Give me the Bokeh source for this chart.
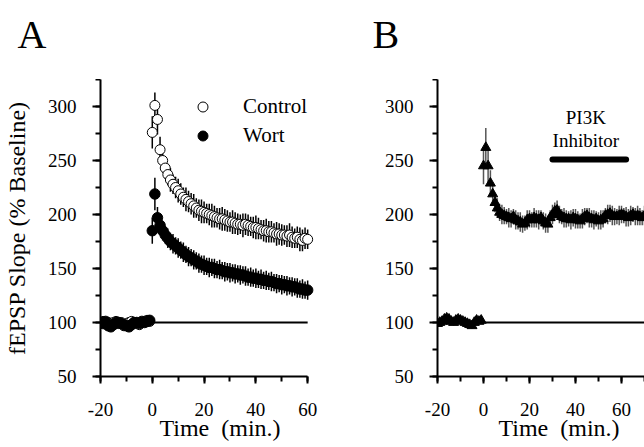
from bokeh.plotting import figure
from bokeh.models import Range1d, SingleIntervalTicker, Legend, LegendItem, Label
from bokeh.layouts import row, column
from bokeh.embed import file_html
from bokeh.resources import INLINE

FONT = "Liberation Serif"

# ---------------- data ----------------
# Panel A: time (min), mean fEPSP slope (% baseline) and SEM
base_t = list(range(-20, 0))
post_t_a = list(range(0, 61))

ctrl_base = [100, 101, 99, 100, 98, 100, 101, 99, 100, 97,
             99, 100, 101, 100, 99, 98, 100, 101, 102, 101]
ctrl_base_sem = [3, 3, 2, 3, 3, 2, 3, 3, 2, 3, 3, 2, 3, 3, 2, 3, 3, 2, 3, 3]
ctrl_post = [276, 301, 288, 260, 250, 243, 237, 232, 228, 225,
             222, 219, 216, 214, 212, 210, 208, 206, 204, 203,
             202, 201, 200, 199, 198, 197, 196, 196, 195, 194,
             193, 193, 192, 191, 191, 190, 191, 190, 189, 188,
             188, 187, 186, 185, 185, 184, 184, 183, 182, 182,
             181, 181, 180, 181, 179, 178, 179, 177, 176, 178,
             177]
ctrl_post_sem = [15, 12, 14, 12, 11, 10, 10, 11, 9, 10,
                 11, 10, 9, 11, 10, 10, 11, 9, 10, 11,
                 10, 9, 10, 11, 10, 9, 10, 11, 10, 10,
                 9, 11, 10, 10, 9, 11, 10, 10, 9, 10,
                 11, 10, 9, 10, 11, 10, 10, 9, 11, 10,
                 10, 9, 10, 11, 10, 9, 10, 11, 10, 10,
                 9]

wort_base = [100, 99, 101, 97, 96, 98, 100, 100, 99, 98,
             97, 96, 98, 100, 100, 99, 101, 100, 101, 102]
wort_base_sem = [2, 3, 2, 3, 2, 3, 2, 3, 2, 3, 2, 3, 2, 3, 2, 3, 2, 3, 2, 3]
wort_post = [185, 219, 197, 190, 185, 181, 178, 175, 173, 171,
             169, 167, 165, 163, 161, 160, 158, 157, 155, 154,
             153, 152, 151, 151, 150, 149, 149, 148, 147, 147,
             146, 146, 145, 145, 144, 144, 143, 142, 142, 141,
             141, 140, 140, 139, 139, 138, 138, 137, 136, 136,
             135, 135, 134, 134, 133, 133, 132, 131, 131, 130,
             130]
wort_post_sem = [12, 15, 10, 9, 9, 8, 9, 8, 9, 8,
                 9, 8, 9, 8, 9, 8, 9, 8, 9, 8,
                 9, 8, 9, 8, 9, 8, 9, 8, 9, 8,
                 9, 8, 9, 8, 9, 8, 9, 8, 9, 8,
                 9, 8, 9, 8, 9, 8, 9, 8, 9, 8,
                 9, 8, 9, 8, 9, 8, 9, 8, 9, 8,
                 9]

# Panel B: PI3K inhibitor applied after LTP
post_t_b = list(range(0, 71))
pi3k_base = [99, 100, 101, 103, 104, 103, 101, 100, 102, 103,
             102, 101, 100, 99, 98, 97, 100, 102, 101, 102]
pi3k_base_sem = [3, 2, 3, 3, 2, 3, 2, 3, 3, 2, 3, 2, 3, 3, 2, 3, 2, 3, 3, 2]
pi3k_post = [245, 262, 245, 229, 219, 211, 206, 202, 200, 199,
             198, 197, 196, 198, 195, 194, 193, 191, 192, 195,
             196, 195, 197, 196, 195, 197, 194, 192, 191, 197,
             200, 203, 204, 200, 198, 197, 196, 196, 195, 197,
             196, 195, 194, 196, 198, 199, 197, 196, 195, 196,
             194, 195, 196, 199, 200, 201, 199, 198, 198, 199,
             200, 199, 198, 197, 199, 200, 198, 199, 198, 197,
             199]
pi3k_post_sem = [17, 18, 16, 12, 10, 9, 9, 8, 9, 8,
                 7, 9, 8, 7, 9, 8, 9, 8, 7, 9,
                 8, 7, 9, 8, 9, 7, 8, 9, 8, 7,
                 9, 8, 9, 8, 7, 9, 8, 7, 9, 8,
                 9, 8, 7, 9, 8, 7, 9, 8, 9, 7,
                 8, 9, 8, 7, 9, 8, 9, 8, 7, 9,
                 8, 7, 9, 8, 9, 7, 8, 9, 8, 7,
                 9]
inhibitor_t = [30, 62]
panel_letters = ["A", "B"]

baseline_level = 100
y_ticks_major = 50
x_ticks_major = 20
NB = "\u00a0"


def style(p, xlabel, ylabel=None):
    p.xgrid.visible = False
    p.ygrid.visible = False
    p.outline_line_color = None
    p.background_fill_color = "white"
    p.border_fill_color = "white"
    p.xaxis.ticker = SingleIntervalTicker(interval=x_ticks_major, num_minor_ticks=2)
    p.yaxis.ticker = SingleIntervalTicker(interval=y_ticks_major, num_minor_ticks=2)
    p.xaxis.major_label_overrides = {-20: "-20"}
    for ax in (p.xaxis[0], p.yaxis[0]):
        ax.axis_line_width = 2
        ax.axis_line_color = "black"
        ax.major_tick_line_width = 2
        ax.minor_tick_line_width = 2
        ax.major_tick_line_color = "black"
        ax.minor_tick_line_color = "black"
        ax.major_tick_in = 0
        ax.minor_tick_in = 0
        ax.major_label_text_font = FONT
        ax.major_label_text_font_size = "19px"
        ax.major_label_text_color = "black"
        ax.axis_label_text_font = FONT
        ax.axis_label_text_font_size = "24px"
        ax.axis_label_text_font_style = "normal"
        ax.axis_label_text_color = "black"
    p.xaxis.major_tick_out = 7
    p.xaxis.minor_tick_out = 5
    p.yaxis.major_tick_out = 8
    p.yaxis.minor_tick_out = 5
    p.xaxis.major_label_standoff = 19
    p.yaxis.major_label_standoff = 16
    p.xaxis.axis_label = xlabel
    p.xaxis.axis_label_standoff = -4
    if ylabel:
        p.yaxis.axis_label = ylabel
        p.yaxis.axis_label_standoff = 15


def errbars(p, t, m, s, color, width):
    lo = [a - b for a, b in zip(m, s)]
    hi = [a + b for a, b in zip(m, s)]
    p.segment(x0=t, y0=lo, x1=t, y1=hi, line_color=color, line_width=width)


# ---------------- header strip with panel letters ----------------
head = figure(width=644, height=79, x_range=Range1d(0, 644), y_range=Range1d(0, 79),
              output_backend="svg", toolbar_location=None,
              x_axis_location=None, y_axis_location=None, min_border=0)
head.xgrid.visible = False
head.ygrid.visible = False
head.outline_line_color = None
for letter, sx in zip(panel_letters, [17, 372]):
    head.add_layout(Label(x=sx, y=45, x_units="screen", y_units="screen", text=letter,
                          text_font=FONT, text_font_size="40px", text_color="black",
                          text_baseline="alphabetic"))

# ---------------- Panel A ----------------
pa = figure(width=340, height=368, x_range=Range1d(-20, 72.3), y_range=Range1d(50, 325),
            output_backend="svg", toolbar_location=None,
            min_border_left=99, min_border_right=1, min_border_top=0, min_border_bottom=71)
style(pa, "Time " + NB + "(min.)", "fEPSP Slope (% Baseline)")
pa.xaxis.bounds = (-20, 60)

ta = base_t + post_t_a
pa.segment(x0=[min(ta)], y0=[baseline_level], x1=[max(ta)], y1=[baseline_level],
           line_color="black", line_width=2)
c_all = ctrl_base + ctrl_post
w_all = wort_base + wort_post
errbars(pa, ta, c_all, ctrl_base_sem + ctrl_post_sem, "black", 1.5)
r_ctrl = pa.scatter(ta, c_all, size=10, marker="circle", fill_color="white",
                    line_color="black", line_width=1)
errbars(pa, ta, w_all, wort_base_sem + wort_post_sem, "black", 1.5)
r_wort = pa.scatter(ta, w_all, size=10.5, marker="circle", fill_color="black",
                    line_color="black", line_width=1)

legend = Legend(items=[LegendItem(label="Control", renderers=[r_ctrl]),
                       LegendItem(label="Wort", renderers=[r_wort])],
                location=(90, 228), glyph_width=25, glyph_height=25, label_height=25,
                spacing=4, padding=0, margin=0, label_standoff=28,
                label_text_font=FONT, label_text_font_size="21px",
                label_text_color="black",
                border_line_color=None, background_fill_alpha=0)
pa.add_layout(legend)

# ---------------- Panel B ----------------
pb = figure(width=304, height=368, x_range=Range1d(-20, 70), y_range=Range1d(50, 325),
            output_backend="svg", toolbar_location=None,
            min_border_left=97, min_border_right=0, min_border_top=0, min_border_bottom=71)
style(pb, NB * 6 + "Time " + NB + "(min.)")

tb = base_t + post_t_b
pb.segment(x0=[min(tb)], y0=[baseline_level], x1=[max(tb)], y1=[baseline_level],
           line_color="black", line_width=2)
b_all = pi3k_base + pi3k_post
errbars(pb, tb, b_all, pi3k_base_sem + pi3k_post_sem, "#555555", 1.5)
pb.scatter(tb, b_all, size=10, marker="triangle", fill_color="black", line_color="black")

pb.line(x=inhibitor_t, y=[251, 251], line_color="black", line_width=6, line_cap="round")
pb.add_layout(Label(x=44.5, y=290, text="PI3K", text_align="center", text_baseline="middle",
                    text_font=FONT, text_font_size="19px", text_color="black"))
pb.add_layout(Label(x=44.5, y=268.5, text="Inhibitor", text_align="center", text_baseline="middle",
                    text_font=FONT, text_font_size="19px", text_color="black"))

layout = column(head, row(pa, pb))
open("out.html", "w").write(file_html(layout, INLINE))
